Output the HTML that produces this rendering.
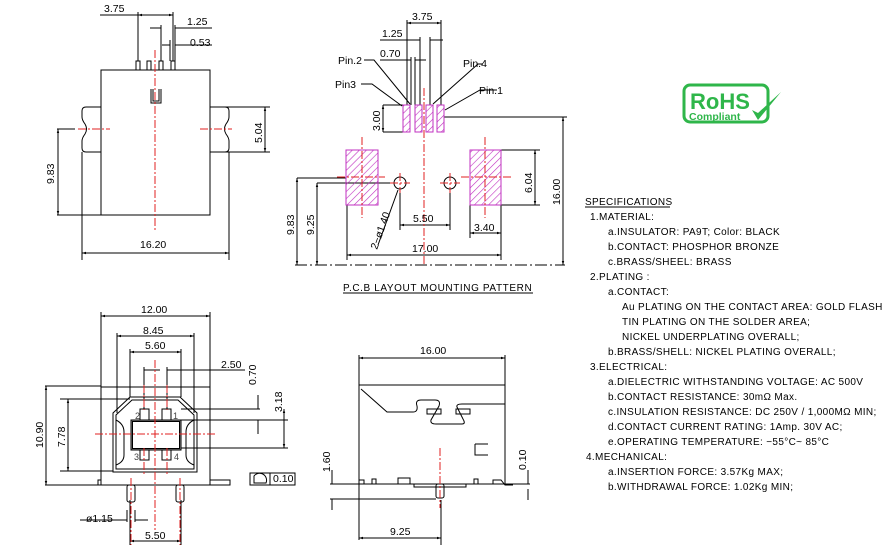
<!DOCTYPE html>
<html><head><meta charset="utf-8"><style>
body{margin:0;background:#fff}
svg{display:block}
text{font-family:"Liberation Sans",sans-serif;fill:#000}
.s{font-size:10px;letter-spacing:0.35px}
.d{font-size:10.5px}
</style></head><body>
<svg width="895" height="553" viewBox="0 0 895 553" xmlns="http://www.w3.org/2000/svg">
<defs>
<pattern id="h" patternUnits="userSpaceOnUse" width="5" height="5" patternTransform="rotate(45)">
<line x1="0" y1="0" x2="0" y2="5" stroke="#c030c0" stroke-width="1.2"/></pattern>
<marker id="a" viewBox="0 0 10 10" refX="10" refY="5" markerWidth="6" markerHeight="4" orient="auto-start-reverse"><path d="M0,2L10,5L0,8z" fill="#000"/></marker>
</defs>
<g stroke="#000" stroke-width="1" fill="none">
<rect x="101" y="70" width="109" height="145"/>
<rect x="136" y="61" width="4" height="9"/><rect x="147" y="61" width="4" height="9"/><rect x="159" y="61" width="4" height="9"/><rect x="171" y="61" width="4" height="9"/>
<path d="M151,89V103H161V89M153,89V101H159V89"/>
<path d="M101,107H86Q82,107 82,111V117Q82,120 85,124Q88,129 85,134Q82,138 82,141V148Q82,152 86,152H101"/>
<path d="M210,107H225Q229,107 229,111V117Q229,120 226,124Q223,129 226,134Q229,138 229,141V148Q229,152 225,152H210"/>
<path d="M82,152V260M229,152V260M57,215H101M210,107H270M210,152H270M57,129H75"/>
<line x1="82" y1="253" x2="229" y2="253" marker-start="url(#a)" marker-end="url(#a)"/>
<line x1="58" y1="129" x2="58" y2="215" marker-start="url(#a)" marker-end="url(#a)"/>
<line x1="265" y1="107" x2="265" y2="152" marker-start="url(#a)" marker-end="url(#a)"/>
<path d="M138,12V61M173,12V61M161,25V61M175,25V61M170,40V61M173,40V61"/>
<path d="M100,15H138M138,15H173" /><line x1="138" y1="15" x2="173" y2="15" marker-start="url(#a)" marker-end="url(#a)"/>
<path d="M150,28H161M175,28H212M162,45H170M175,45H212"/>
<path d="M383,105H403M383,132H403M444,117H567M501,150H540M501,205H540M297,178H346M317,183H392M347,205V260M501,205V260M400,189V230M450,189V230M470,205V238M407,20V105M441,20V105M420,37V105M430,37V105M411,57V105M415,57V105"/>
<line x1="383" y1="105" x2="383" y2="132" marker-start="url(#a)" marker-end="url(#a)"/>
<line x1="563" y1="117" x2="563" y2="265" marker-start="url(#a)" marker-end="url(#a)"/>
<line x1="535" y1="150" x2="535" y2="205" marker-start="url(#a)" marker-end="url(#a)"/>
<line x1="297" y1="178" x2="297" y2="265" marker-start="url(#a)" marker-end="url(#a)"/>
<line x1="317" y1="183" x2="317" y2="265" marker-start="url(#a)" marker-end="url(#a)"/>
<line x1="400" y1="225" x2="450" y2="225" marker-start="url(#a)" marker-end="url(#a)"/>
<line x1="470" y1="233" x2="501" y2="233" marker-start="url(#a)" marker-end="url(#a)"/>
<line x1="347" y1="255" x2="501" y2="255" marker-start="url(#a)" marker-end="url(#a)"/>
<line x1="407" y1="23" x2="441" y2="23" marker-start="url(#a)" marker-end="url(#a)"/>
<path d="M380,40H420M430,40H443M380,60H411M415,60H426"/>
<path d="M295,265H565" stroke-dasharray="12,3,2,3"/>
<circle cx="400" cy="183" r="6"/><circle cx="450" cy="183" r="6"/>
<path d="M364,60H374L410,104M361,84H372L402,106M483,64H478L433,104M497,90H480L445,110M398,190L378,245"/>
<path d="M101,387H210V485H101Z M45,485H230"/>
<path d="M130,397H180L197,413V472H113V413Z"/>
<path d="M132,400H178L194,415V469H116V415Z"/>
<rect x="131" y="420" width="50" height="30" fill="#999"/>
<rect x="132.5" y="421.5" width="47" height="27" fill="#fff"/>
<path d="M140,420V409H149V420M162,420V409H171V420M140,450V460H149V450M162,450V460H171V450"/>
<path d="M116,420Q124,424 124,432V455Q124,462 116,465M194,420Q186,424 186,432V455Q186,462 194,465"/>
<path d="M82,485H98V480H101M213,485H230V480H210"/>
<rect x="127" y="485" width="8" height="17" rx="2"/><rect x="176" y="485" width="8" height="17" rx="2"/>
<path d="M101,312V387M210,312V387M117,333V413M194,333V413M130,349V397M181,349V397M144,367V409M167,367V409M130,500V545M181,500V545M45,386H101M60,399H130M60,471H113M181,409H260M181,420H288M181,448H288M127,510V522M135,510V522"/>
<line x1="101" y1="316" x2="210" y2="316" marker-start="url(#a)" marker-end="url(#a)"/>
<line x1="117" y1="336" x2="194" y2="336" marker-start="url(#a)" marker-end="url(#a)"/>
<line x1="130" y1="352" x2="181" y2="352" marker-start="url(#a)" marker-end="url(#a)"/>
<path d="M144,370H160M167,370H245"/>
<line x1="46" y1="386" x2="46" y2="485" marker-start="url(#a)" marker-end="url(#a)"/>
<line x1="68" y1="399" x2="68" y2="471" marker-start="url(#a)" marker-end="url(#a)"/>
<line x1="284" y1="409" x2="284" y2="448" marker-start="url(#a)" marker-end="url(#a)"/>
<path d="M258,395V409M258,420V434"/>
<line x1="130" y1="541" x2="181" y2="541" marker-start="url(#a)" marker-end="url(#a)"/>
<path d="M80,520H127M135,520H148"/>
<rect x="250" y="473" width="20" height="12"/><rect x="270" y="473" width="25" height="12"/>
<path d="M254,483V476A7,7 0 0 1 266,483Z"/>
<path d="M359,355V540M505,355V485M359,385H505M441,500V545M330,484H530M330,499H436"/>
<path d="M361,389L387,412H413Q418,412 417,406Q415,400 421,400H435Q441,400 439,406L431,420Q430,424 436,424H462Q466,424 463,419L457,407Q456,404 462,404H505"/>
<rect x="427" y="409" width="14" height="5"/><rect x="456" y="409" width="14" height="5"/>
<path d="M475,444H488M475,444V455H488"/>
<path d="M359,484V480H364V484M372,484V479H376V484M398,484V478H410V484M414,484V487H466V484M474,484V479H478V484M493,484V480H501L505,485H513"/>
<rect x="436" y="484" width="8" height="14" rx="2"/>
<line x1="359" y1="358" x2="505" y2="358" marker-start="url(#a)" marker-end="url(#a)"/>
<line x1="359" y1="538" x2="441" y2="538" marker-start="url(#a)" marker-end="url(#a)"/>
<path d="M332,470V484M332,499V510M528,470V484M528,489V500"/>
</g>
<g stroke="#c030c0" stroke-width="1" fill="url(#h)">
<rect x="403" y="105" width="7" height="27"/><rect x="415" y="105" width="7" height="27"/><rect x="426" y="105" width="7" height="27"/><rect x="437" y="105" width="7" height="27"/>
<rect x="346" y="150" width="32" height="55"/><rect x="470" y="150" width="31" height="55"/>
</g>
<g stroke="#e02020" stroke-width="1" stroke-dasharray="8,2,2,2" fill="none">
<path d="M155,50V230M78,129H110M200,129H232"/>
<path d="M424,88V265M337,177H385M362,137V218M461,177H511M485,137V218M390,183H410M400,173V193M440,183H460M450,173V193"/>
<path d="M95,434H217M155,360V530M144,385V410M167,385V410M144,448V475M167,448V475M131,478V545M180,478V545"/>
<path d="M440,448V508"/>
</g>
<g class="d">
<text x="104" y="12">3.75</text><text x="187" y="25">1.25</text><text x="190" y="46">0.53</text>
<text x="140" y="248">16.20</text>
<text transform="translate(54,184) rotate(-90)">9.83</text>
<text transform="translate(262,143) rotate(-90)">5.04</text>
<text x="412" y="20">3.75</text><text x="382" y="37">1.25</text><text x="380" y="57">0.70</text>
<text x="338" y="64">Pin.2</text><text x="335" y="88">Pin3</text><text x="463" y="67">Pin.4</text><text x="479" y="94">Pin.1</text>
<text transform="translate(380,131) rotate(-90)">3.00</text>
<text transform="translate(532,193) rotate(-90)">6.04</text>
<text transform="translate(560,205) rotate(-90)">16.00</text>
<text transform="translate(294,235) rotate(-90)">9.83</text>
<text transform="translate(314,235) rotate(-90)">9.25</text>
<text transform="translate(377,250) rotate(-70)">2−ø1.40</text>
<text x="413" y="222">5.50</text><text x="474" y="231">3.40</text><text x="412" y="252">17.00</text>
<text x="343" y="291" style="font-size:10px;letter-spacing:0.6px">P.C.B LAYOUT MOUNTING PATTERN</text>
<text x="141" y="313">12.00</text><text x="143" y="334">8.45</text><text x="145" y="349">5.60</text><text x="221" y="368">2.50</text>
<text transform="translate(256,385) rotate(-90)">0.70</text>
<text transform="translate(282,412) rotate(-90)">3.18</text>
<text transform="translate(43,448) rotate(-90)">10.90</text>
<text transform="translate(65,447) rotate(-90)">7.78</text>
<text x="135" y="419" style="font-size:9px;fill:#444">2</text><text x="173" y="419" style="font-size:9px;fill:#444">1</text>
<text x="134" y="460" style="font-size:9px;fill:#444">3</text><text x="174" y="460" style="font-size:9px;fill:#444">4</text>
<text x="273" y="482">0.10</text>
<text x="86" y="522">ø1.15</text><text x="145" y="539">5.50</text>
<text x="420" y="354">16.00</text>
<text transform="translate(330,472) rotate(-90)">1.60</text>
<text transform="translate(526,470) rotate(-90)">0.10</text>
<text x="390" y="535">9.25</text>
</g>
<line x1="343" y1="293" x2="533" y2="293" stroke="#000"/>
<rect x="684" y="85" width="84" height="37" rx="6" fill="none" stroke="#2fb64a" stroke-width="3"/>
<text x="690" y="109" style="font-size:22px;font-weight:bold;fill:#2fb64a">RoHS</text>
<text x="689" y="120" style="font-size:10.5px;font-weight:bold;fill:#2fb64a">Compliant</text>
<path d="M752,110L758,120L781,92L758,113Z" fill="#2fb64a"/>
<g class="s">
<text x="585" y="205">SPECIFICATIONS</text>
<text x="590" y="220">1.MATERIAL:</text>
<text x="608" y="235">a.INSULATOR: PA9T; Color: BLACK</text>
<text x="608" y="250">b.CONTACT: PHOSPHOR BRONZE</text>
<text x="608" y="265">c.BRASS/SHEEL:  BRASS</text>
<text x="590" y="280">2.PLATING :</text>
<text x="608" y="295">a.CONTACT:</text>
<text x="622" y="310">Au PLATING ON THE CONTACT AREA: GOLD FLASH</text>
<text x="622" y="325">TIN PLATING ON THE SOLDER AREA;</text>
<text x="622" y="340">NICKEL UNDERPLATING OVERALL;</text>
<text x="608" y="355">b.BRASS/SHELL: NICKEL PLATING OVERALL;</text>
<text x="590" y="370">3.ELECTRICAL:</text>
<text x="608" y="385">a.DIELECTRIC WITHSTANDING VOLTAGE:  AC 500V</text>
<text x="608" y="400">b.CONTACT RESISTANCE:  30mΩ Max.</text>
<text x="608" y="415">c.INSULATION RESISTANCE:  DC 250V / 1,000MΩ MIN;</text>
<text x="608" y="430">d.CONTACT CURRENT RATING:  1Amp. 30V AC;</text>
<text x="608" y="445">e.OPERATING TEMPERATURE:  −55°C~ 85°C</text>
<text x="586" y="460">4.MECHANICAL:</text>
<text x="608" y="475">a.INSERTION FORCE:  3.57Kg MAX;</text>
<text x="608" y="490">b.WITHDRAWAL FORCE:  1.02Kg MIN;</text>
</g>
<line x1="585" y1="207" x2="670" y2="207" stroke="#000"/>
</svg>
</body></html>
